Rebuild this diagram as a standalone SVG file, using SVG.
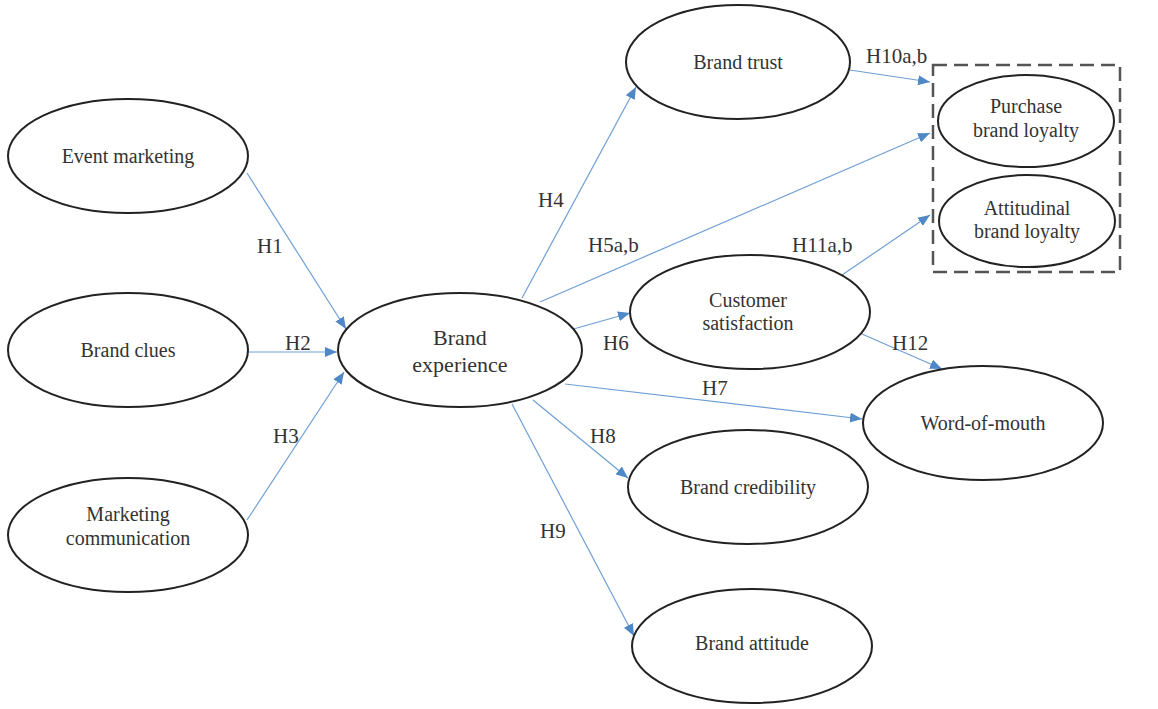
<svg xmlns="http://www.w3.org/2000/svg" width="1158" height="709" viewBox="0 0 1158 709">
  <style>
    .node { fill: #ffffff; stroke: #222222; stroke-width: 2; }
    .txt { font-family: 'Liberation Serif', 'DejaVu Serif', 'Times New Roman', serif; font-size: 20px; fill: #333333; text-anchor: middle; }
    .big { font-size: 22px; }
    .lbl { font-family: 'Liberation Serif', 'DejaVu Serif', 'Times New Roman', serif; font-size: 21px; fill: #333333; }
    .edge { fill: none; stroke: #6f9fd6; stroke-width: 1.2; marker-end: url(#arrow); }
    .group { fill: none; stroke: #555555; stroke-width: 2.5; stroke-dasharray: 14 7; }
  </style>
  <defs>
    <marker id="arrow" markerUnits="userSpaceOnUse" markerWidth="12" markerHeight="10" refX="12" refY="5" orient="auto">
      <path d="M0,0 L12,5 L0,10 Z" fill="#4f88c6"/>
    </marker>
  </defs>
  <rect width="1158" height="709" fill="#ffffff"/>

  <!-- loyalty grouping -->
  <rect id="loyalty-group" class="group" x="933" y="65" width="187" height="207"/>

  <!-- connectors -->
  <g id="connectors">
    <line class="edge" x1="247" y1="173" x2="346" y2="329"/>
    <line class="edge" x1="248" y1="352" x2="337" y2="352"/>
    <line class="edge" x1="247" y1="520" x2="344" y2="372"/>
    <line class="edge" x1="522" y1="298" x2="636" y2="87"/>
    <line class="edge" x1="540" y1="302" x2="930" y2="133"/>
    <line class="edge" x1="570" y1="330" x2="630" y2="313"/>
    <line class="edge" x1="565" y1="384" x2="862" y2="419"/>
    <line class="edge" x1="533" y1="400" x2="628" y2="478"/>
    <line class="edge" x1="512" y1="404" x2="634" y2="636"/>
    <line class="edge" x1="850" y1="70" x2="930" y2="82"/>
    <line class="edge" x1="842" y1="275" x2="930" y2="215"/>
    <line class="edge" x1="862" y1="334" x2="942" y2="369"/>
  </g>

  <!-- hypothesis labels -->
  <g id="labels">
    <text class="lbl" x="257" y="253">H1</text>
    <text class="lbl" x="285" y="350">H2</text>
    <text class="lbl" x="273" y="443">H3</text>
    <text class="lbl" x="538" y="207">H4</text>
    <text class="lbl" x="588" y="252">H5a,b</text>
    <text class="lbl" x="603" y="350">H6</text>
    <text class="lbl" x="702" y="395">H7</text>
    <text class="lbl" x="590" y="443">H8</text>
    <text class="lbl" x="540" y="538">H9</text>
    <text class="lbl" x="866" y="63">H10a,b</text>
    <text class="lbl" x="792" y="252">H11a,b</text>
    <text class="lbl" x="892" y="350">H12</text>
  </g>

  <g id="event-marketing">
    <ellipse class="node" cx="128" cy="156" rx="120" ry="57"/>
    <text class="txt" x="128" y="163">Event marketing</text>
  </g>
  <g id="brand-clues">
    <ellipse class="node" cx="128" cy="350" rx="120" ry="57"/>
    <text class="txt" x="128" y="357">Brand clues</text>
  </g>
  <g id="marketing-communication">
    <ellipse class="node" cx="128" cy="535" rx="120" ry="57"/>
    <text class="txt" x="128" y="521">Marketing</text>
    <text class="txt" x="128" y="545">communication</text>
  </g>
  <g id="brand-experience">
    <ellipse class="node" cx="460" cy="350" rx="122" ry="57"/>
    <text class="txt big" x="460" y="345">Brand</text>
    <text class="txt big" x="460" y="372">experience</text>
  </g>
  <g id="brand-trust">
    <ellipse class="node" cx="738" cy="62" rx="112" ry="57"/>
    <text class="txt" x="738" y="69">Brand trust</text>
  </g>
  <g id="purchase-brand-loyalty">
    <ellipse class="node" cx="1026" cy="121" rx="88" ry="46"/>
    <text class="txt" x="1026" y="113">Purchase</text>
    <text class="txt" x="1026" y="137">brand loyalty</text>
  </g>
  <g id="attitudinal-brand-loyalty">
    <ellipse class="node" cx="1027" cy="221" rx="88" ry="46"/>
    <text class="txt" x="1027" y="215">Attitudinal</text>
    <text class="txt" x="1027" y="238">brand loyalty</text>
  </g>
  <g id="customer-satisfaction">
    <ellipse class="node" cx="750" cy="312" rx="120" ry="57"/>
    <text class="txt" x="748" y="307">Customer</text>
    <text class="txt" x="748" y="330">satisfaction</text>
  </g>
  <g id="word-of-mouth">
    <ellipse class="node" cx="983" cy="423" rx="120" ry="57"/>
    <text class="txt" x="983" y="430">Word-of-mouth</text>
  </g>
  <g id="brand-credibility">
    <ellipse class="node" cx="748" cy="487" rx="120" ry="57"/>
    <text class="txt" x="748" y="494">Brand credibility</text>
  </g>
  <g id="brand-attitude">
    <ellipse class="node" cx="752" cy="646" rx="120" ry="57"/>
    <text class="txt" x="752" y="650">Brand attitude</text>
  </g>
</svg>
